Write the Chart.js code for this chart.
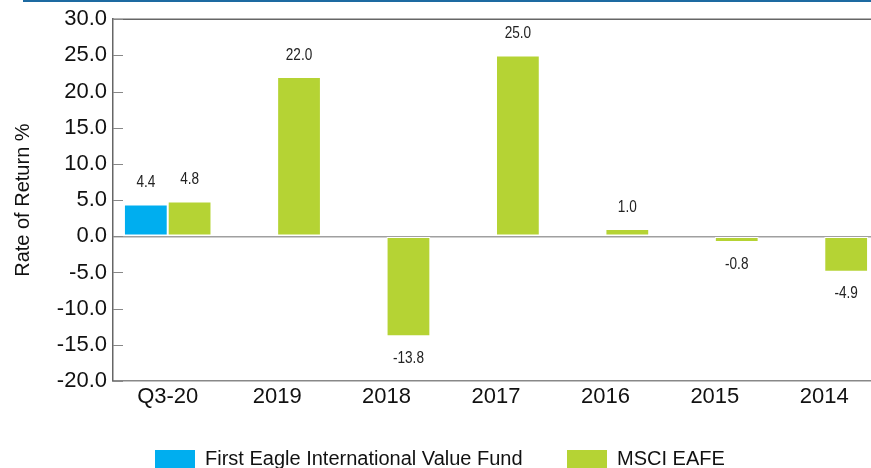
<!DOCTYPE html>
<html>
<head>
<meta charset="utf-8">
<title>Rate of Return</title>
<script src="https://cdn.jsdelivr.net/npm/chart.js@4.4.0/dist/chart.umd.min.js"></script>
<style>
  html, body { margin: 0; padding: 0; background: #fff; overflow: hidden; }
  #wrap { position: relative; width: 879px; height: 468px; }
  #topRule { position: absolute; left: 23px; top: 0; width: 848px; height: 2px; background: #1d6aa1; }
  .legend-item {
    position: absolute; top: 447px; display: flex; align-items: center; white-space: nowrap;
    font-family: "Liberation Sans", Arial, sans-serif; font-size: 20px; color: #111;
  }
  .legend-item span.swatch { display: inline-block; width: 40px; height: 18px; margin-right: 10px; }
</style>
</head>
<body>
<div id="wrap">
  <div id="topRule"></div>
  <canvas id="returnsChart"></canvas>
  <div class="legend-item" style="left:155px"><span class="swatch" id="sw0"></span><span id="lg0"></span></div>
  <div class="legend-item" style="left:567px"><span class="swatch" id="sw1"></span><span id="lg1"></span></div>
</div>
<script>
// calendar periods, most recent first
const categories = ['Q3-20', '2019', '2018', '2017', '2016', '2015', '2014'];
const fundReturns = [4.4, null, null, null, null, null, null];
const eafeReturns = [4.8, 22.0, -13.8, 25.0, 1.0, -0.8, -4.9];
const seriesNames = ['First Eagle International Value Fund', 'MSCI EAFE'];
const seriesColors = ['#00aeef', '#b5d334'];
const yMin = -20, yMax = 30, yStep = 5;

Chart.defaults.font.family = '"Liberation Sans", Arial, sans-serif';
Chart.defaults.color = '#111';

// html legend under the chart
seriesNames.forEach(function (name, i) {
    document.getElementById('sw' + i).style.background = seriesColors[i];
    document.getElementById('lg' + i).textContent = name;
});

// top border of the plot + short inward ticks on the value axis
const frameLines = {
    id: 'frameLines',
    afterDraw(chart) {
        const { ctx, chartArea } = chart;
        const y = chart.scales.y;
        ctx.save();
        ctx.strokeStyle = '#666';
        ctx.lineWidth = 1.5;
        ctx.beginPath();
        ctx.moveTo(chartArea.left, chartArea.top);
        ctx.lineTo(chartArea.right, chartArea.top);
        ctx.stroke();
        ctx.strokeStyle = '#888';
        ctx.lineWidth = 1;
        y.ticks.forEach(function (t) {
            const py = Math.round(y.getPixelForValue(t.value)) + 0.5;
            ctx.beginPath();
            ctx.moveTo(chartArea.left, py);
            ctx.lineTo(chartArea.left + 10, py);
            ctx.stroke();
        });
        ctx.restore();
    }
};

// value labels above / below each bar, squeezed a little for a condensed look
const barValues = {
    id: 'barValues',
    afterDatasetsDraw(chart) {
        const { ctx } = chart;
        chart.data.datasets.forEach(function (ds, di) {
            chart.getDatasetMeta(di).data.forEach(function (bar, i) {
                const v = ds.data[i];
                if (v === null || v === undefined) return;
                const ty = v >= 0 ? bar.y - 22 : bar.y + 22;
                ctx.save();
                ctx.translate(bar.x, ty);
                ctx.scale(0.8, 1);
                ctx.font = '17px "Liberation Sans", Arial, sans-serif';
                ctx.fillStyle = '#222';
                ctx.textAlign = 'center';
                ctx.textBaseline = 'middle';
                ctx.fillText(v.toFixed(1), 0, 0);
                ctx.restore();
            });
        });
    }
};

const ctx = document.getElementById('returnsChart').getContext('2d');
const returnsChart = new Chart(ctx, {
    type: 'bar',
    data: {
        labels: categories,
        datasets: [{
            label: seriesNames[0],
            data: fundReturns,
            backgroundColor: seriesColors[0],
            borderColor: '#fff',
            borderWidth: 1,
            borderSkipped: false
        }, {
            label: seriesNames[1],
            data: eafeReturns,
            backgroundColor: seriesColors[1],
            borderColor: '#fff',
            borderWidth: 1,
            borderSkipped: false
        }]
    },
    options: {
        responsive: true,
        maintainAspectRatio: false,
        animation: false,
        layout: { padding: { top: 18, right: 0, left: 0, bottom: 0 } },
        datasets: { bar: { categoryPercentage: 0.8, barPercentage: 1.0 } },
        plugins: {
            legend: { display: false },
            tooltip: { enabled: false }
        },
        scales: {
            x: {
                grid: { display: false },
                border: { display: true, color: '#888', width: 1.5 },
                ticks: { font: { size: 22 }, padding: -5, color: '#111' },
                afterFit(scale) { scale.height = 87; }
            },
            y: {
                min: yMin,
                max: yMax,
                grid: {
                    drawTicks: false,
                    lineWidth: 1.5,
                    color: function (c) { return c.tick && c.tick.value === 0 ? '#a0a0a0' : 'rgba(0,0,0,0)'; }
                },
                border: { display: true, color: '#666', width: 1.5 },
                ticks: {
                    stepSize: yStep,
                    font: { size: 22 },
                    padding: 6,
                    color: '#111',
                    callback: function (v) { return v.toFixed(1); }
                },
                title: {
                    display: true,
                    text: 'Rate of Return %',
                    font: { size: 20 },
                    color: '#111',
                    padding: { top: 11, bottom: 0 }
                },
                afterFit(scale) { scale.width = 113; }
            }
        }
    },
    plugins: [frameLines, barValues]
});
</script>
</body>
</html>
